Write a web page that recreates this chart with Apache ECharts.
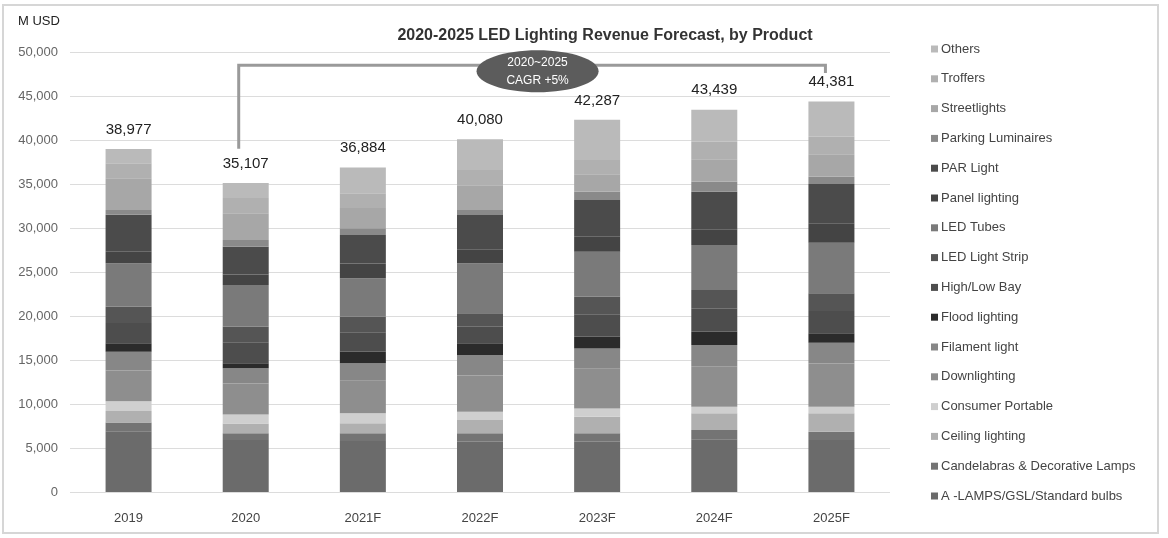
<!DOCTYPE html>
<html>
<head>
<meta charset="utf-8">
<script src="https://cdn.jsdelivr.net/npm/echarts@6/dist/echarts.min.js"></script>
<style>
html,body{margin:0;padding:0;background:#fff;}
#c{width:1168px;height:538px;}
</style>
</head>
<body>
<div id="c"></div>
<script>
const categories = ['2019', '2020', '2021F', '2022F', '2023F', '2024F', '2025F'];
const totals = [38977, 35107, 36884, 40080, 42287, 43439, 44381];
const yTicks = { min: 0, max: 50000, interval: 5000 };

// series values (M USD), bottom of stack first
const aLamps        = [6900, 5900, 5800, 5700, 5700, 6000, 5900];
const candelabras   = [1000,  770,  870,  970,  970, 1050,  960];
const ceiling       = [1300, 1100, 1130, 1510, 1890, 1890, 2080];
const consumer      = [1100, 1050, 1140,  950,  940,  760,  760];
const downlighting  = [3500, 3500, 3700, 4100, 4500, 4600, 4900];
const filament      = [2150, 1730, 1980, 2340, 2320, 2400, 2370];
const flood         = [ 950,  570, 1330, 1320, 1320, 1520, 1060];
const highLowBay    = [2300, 2400, 2200, 1900, 2550, 2600, 2550];
const ledStrip      = [1850, 1770, 1770, 1510, 2000, 2130, 2000];
const ledTubes      = [4950, 4730, 4360, 5690, 5110, 5120, 5750];
const panel         = [1300, 1200, 1700, 1600, 1700, 1800, 2200];
const parLight      = [4200, 3160, 3220, 3890, 4170, 4260, 4470];
const parking       = [ 550,  760,  760,  570,  950, 1140,  830];
const streetlights  = [3600, 3030, 2300, 2800, 2000, 2540, 2550];
const troffers      = [1700, 1730, 1680, 1740, 1600, 2000, 2000];
const others        = [1627, 1707, 2944, 3490, 4567, 3629, 4001];

const seriesDefs = [
  ['A -LAMPS/GSL/Standard bulbs', aLamps, '#6b6b6b'],
  ['Candelabras & Decorative Lamps', candelabras, '#747474'],
  ['Ceiling lighting', ceiling, '#b0b0b0'],
  ['Consumer Portable', consumer, '#cfcfcf'],
  ['Downlighting', downlighting, '#8e8e8e'],
  ['Filament light', filament, '#878787'],
  ['Flood lighting', flood, '#2b2b2b'],
  ['High/Low Bay', highLowBay, '#4d4d4d'],
  ['LED Light Strip', ledStrip, '#555555'],
  ['LED Tubes', ledTubes, '#7a7a7a'],
  ['Panel lighting', panel, '#444444'],
  ['PAR Light', parLight, '#4b4b4b'],
  ['Parking Luminaires', parking, '#8a8a8a'],
  ['Streetlights', streetlights, '#a7a7a7'],
  ['Troffers', troffers, '#b0b0b0'],
  ['Others', others, '#bababa']
];

const fmt = v => Number(v).toLocaleString('en-US');
const FONT = '"Liberation Sans", Arial, sans-serif';

const series = seriesDefs.map((d, i) => {
  const s = {
    name: d[0], type: 'bar', stack: 'total', data: d[1], barWidth: 46,
    itemStyle: { color: d[2] },
    emphasis: { disabled: true }
  };
  if (i === seriesDefs.length - 1) {
    s.label = {
      show: true, position: 'top', distance: 12,
      formatter: p => fmt(totals[p.dataIndex]),
      fontSize: 15, color: '#222', fontFamily: FONT
    };
  }
  return s;
});

const chart = echarts.init(document.getElementById('c'), null, { renderer: 'canvas' });
chart.setOption({
  animation: false,
  backgroundColor: '#fff',
  textStyle: { fontFamily: FONT },
  title: {
    text: '2020-2025 LED Lighting Revenue Forecast, by Product',
    left: 600, top: 23, textAlign: 'center',
    textStyle: { fontSize: 16, fontWeight: 'bold', color: '#333', fontFamily: FONT }
  },
  legend: {
    orient: 'vertical', left: 926, top: 37,
    itemWidth: 7, itemHeight: 7, itemGap: 15.8, icon: 'rect',
    data: seriesDefs.map(d => d[0]).reverse(),
    textStyle: { fontSize: 13, color: '#444', lineHeight: 14, fontFamily: FONT, padding: [0, 0, 0, -2] },
    selectedMode: false
  },
  grid: { left: 70, right: 278, top: 52, bottom: 46 },
  xAxis: {
    type: 'category', data: categories,
    axisLine: { show: false }, axisTick: { show: false },
    axisLabel: { fontSize: 13, color: '#444', margin: 20, fontFamily: FONT }
  },
  yAxis: {
    type: 'value', min: yTicks.min, max: yTicks.max, interval: yTicks.interval,
    name: 'M USD', nameLocation: 'end', nameGap: 24,
    nameTextStyle: { fontSize: 13, color: '#222', align: 'left', padding: [0, 0, 0, -52], fontFamily: FONT },
    axisLine: { show: false }, axisTick: { show: false },
    axisLabel: { fontSize: 13, color: '#666', margin: 12, formatter: v => fmt(v), fontFamily: FONT },
    splitLine: { lineStyle: { color: '#dcdcdc', width: 1 } }
  },
  series: series
});

// CAGR bracket annotation, positioned through the chart's own scales
const bracketTop = 48500, leftBottom = 39000, rightBottom = 47600;
const pL = chart.convertToPixel({ xAxisIndex: 0, yAxisIndex: 0 }, [1, bracketTop]);
const pR = chart.convertToPixel({ xAxisIndex: 0, yAxisIndex: 0 }, [6, bracketTop]);
const yLB = chart.convertToPixel({ yAxisIndex: 0 }, leftBottom);
const yRB = chart.convertToPixel({ yAxisIndex: 0 }, rightBottom);
const xL = pL[0] - 7, xR = pR[0] - 6, yT = pL[1];
const cx = (pL[0] + pR[0]) / 2 - 1, cy = yT + 6;
chart.setOption({
  graphic: [
    { type: 'rect', shape: { x: 3, y: 5, width: 1155, height: 528 }, style: { fill: 'none', stroke: '#d6d6d6', lineWidth: 2 }, silent: true },
    { type: 'polyline', shape: { points: [[xL, yLB], [xL, yT], [xR, yT], [xR, yRB]] }, style: { stroke: '#9a9a9a', lineWidth: 3, fill: 'none' }, silent: true },
    { type: 'ellipse', shape: { cx: cx, cy: cy, rx: 61, ry: 21 }, style: { fill: '#5c5c5c' }, silent: true },
    { type: 'text', x: cx, y: cy, style: { text: '2020~2025\nCAGR +5%', fill: '#fff', fontSize: 12, lineHeight: 18, fontFamily: FONT, align: 'center', verticalAlign: 'middle' }, silent: true }
  ]
});
</script>
</body>
</html>
